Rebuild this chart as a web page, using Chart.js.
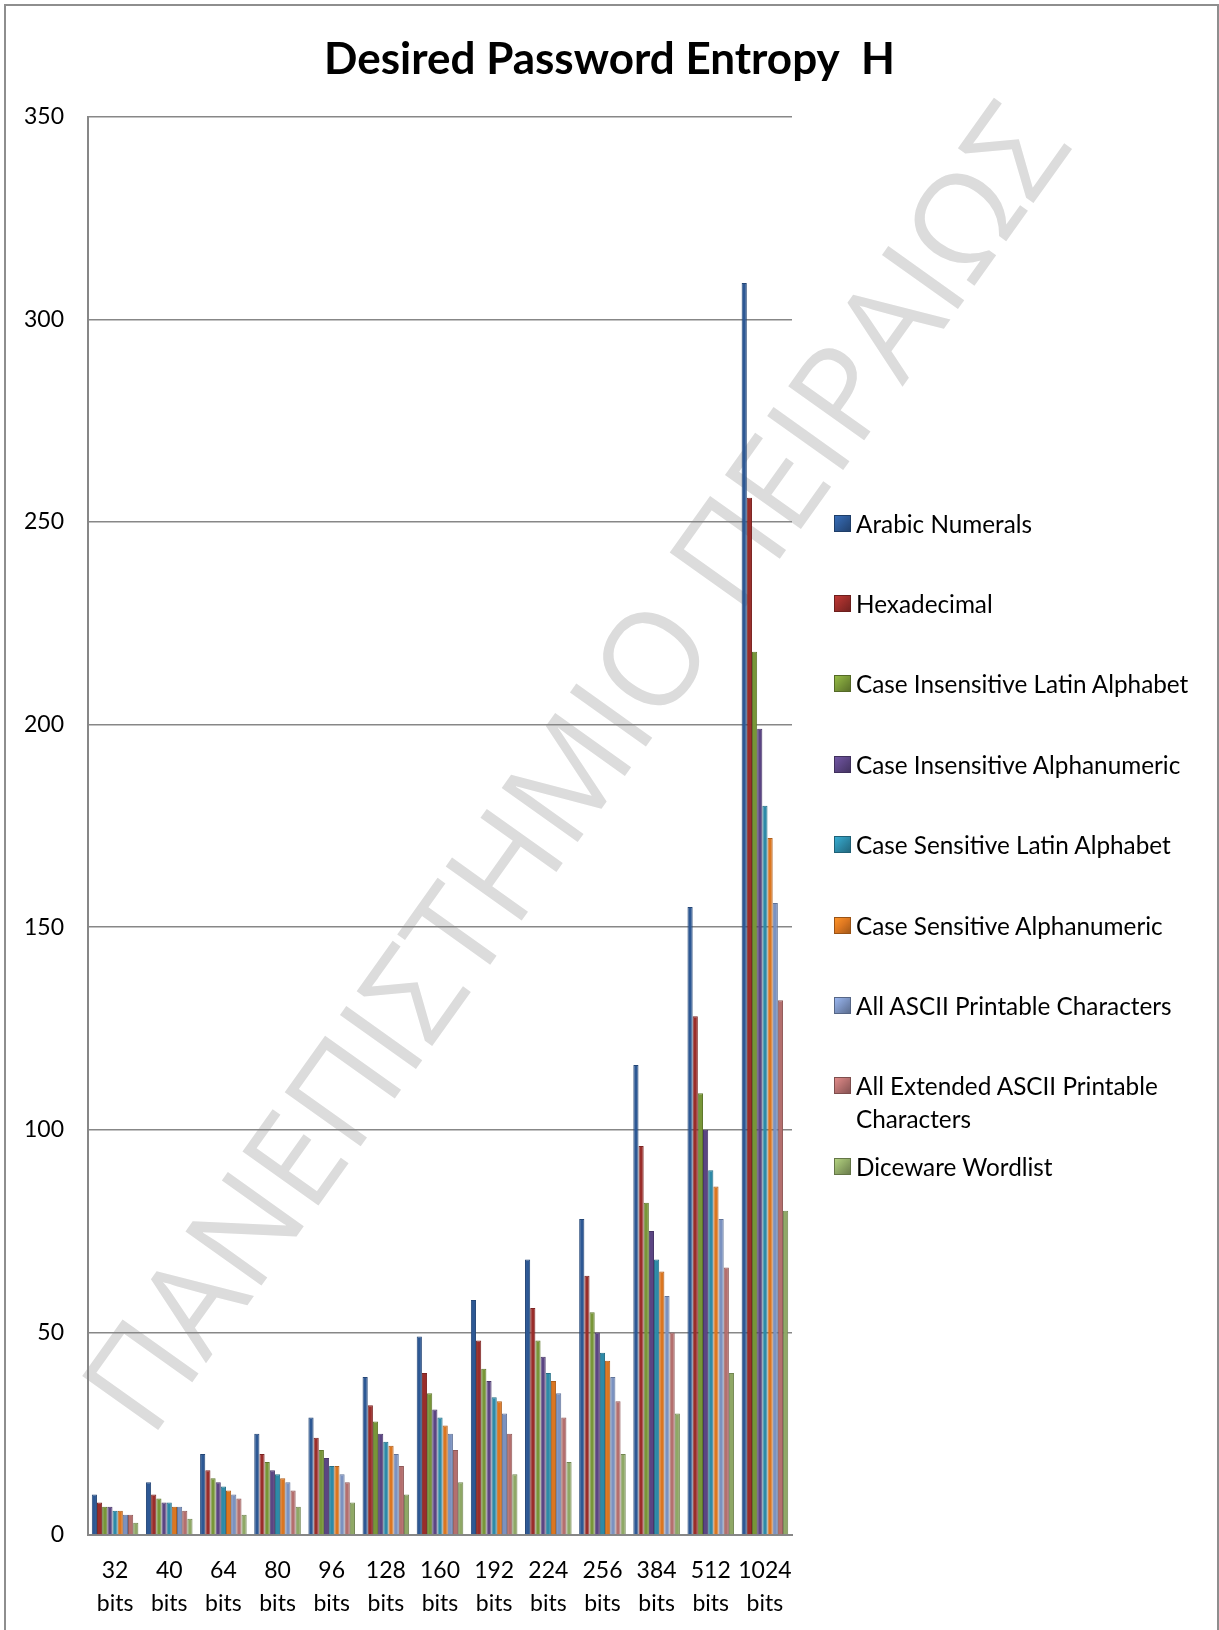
<!DOCTYPE html>
<html>
<head>
<meta charset="utf-8">
<title>Desired Password Entropy H</title>
<script src="https://cdn.jsdelivr.net/npm/chart.js@4.4.0/dist/chart.umd.min.js"></script>
<style>
  html, body { margin: 0; padding: 0; background: #fff; overflow: hidden; }
  #wrap { position: relative; width: 1219px; height: 1630px; }
  #chart { position: absolute; left: 0; top: 0; }
  #frame { position: absolute; left: 4px; top: 4px; width: 1211px; height: 1700px;
           border: 2px solid #8e8e8e; pointer-events: none; }
  #legend { position: absolute; left: 834px; top: 0; font-family: Lato, sans-serif;
            font-size: 24.3px; color: #000; }
  .item { position: absolute; left: 0; }
  .box { position: absolute; left: 0; width: 17px; height: 17px; box-sizing: border-box; }
  .txt { position: absolute; left: 22px; top: 0; width: 345px; line-height: 33px; }
</style>
</head>
<body>
<div id="wrap">
  <canvas id="chart" width="1219" height="1630"></canvas>
  <div id="legend"></div>
  <div id="frame"></div>
</div>
<script>
'use strict';

// categories (key length)
var categories = [
  ["32", "bits"], ["40", "bits"], ["64", "bits"], ["80", "bits"], ["96", "bits"],
  ["128", "bits"], ["160", "bits"], ["192", "bits"], ["224", "bits"], ["256", "bits"],
  ["384", "bits"], ["512", "bits"], ["1024", "bits"]
];

// password length per symbol set
var arabicNumerals      = [10, 13, 20, 25, 29, 39, 49, 58, 68, 78, 116, 155, 309];
var hexadecimal         = [8, 10, 16, 20, 24, 32, 40, 48, 56, 64, 96, 128, 256];
var ciLatinAlphabet     = [7, 9, 14, 18, 21, 28, 35, 41, 48, 55, 82, 109, 218];
var ciAlphanumeric      = [7, 8, 13, 16, 19, 25, 31, 38, 44, 50, 75, 100, 199];
var csLatinAlphabet     = [6, 8, 12, 15, 17, 23, 29, 34, 40, 45, 68, 90, 180];
var csAlphanumeric      = [6, 7, 11, 14, 17, 22, 27, 33, 38, 43, 65, 86, 172];
var asciiPrintable      = [5, 7, 10, 13, 15, 20, 25, 30, 35, 39, 59, 78, 156];
var extAsciiPrintable   = [5, 6, 9, 11, 13, 17, 21, 25, 29, 33, 50, 66, 132];
var dicewareWordlist    = [3, 4, 5, 7, 8, 10, 13, 15, 18, 20, 30, 40, 80];

var seriesNames = [
  'Arabic Numerals', 'Hexadecimal', 'Case Insensitive Latin Alphabet',
  'Case Insensitive Alphanumeric', 'Case Sensitive Latin Alphabet',
  'Case Sensitive Alphanumeric', 'All ASCII Printable Characters',
  'All Extended ASCII Printable Characters', 'Diceware Wordlist'
];
var seriesValues = [arabicNumerals, hexadecimal, ciLatinAlphabet, ciAlphanumeric,
  csLatinAlphabet, csAlphanumeric, asciiPrintable, extAsciiPrintable, dicewareWordlist];
var seriesColors = ['#2d5894', '#9a2d2a', '#789638', '#5b4583', '#2d8aa8',
  '#db7620', '#7b92c0', '#b46f6e', '#8fa866'];

var yTicks = [0, 50, 100, 150, 200, 250, 300, 350];

var watermarkText = 'ΠΑΝΕΠΙΣΤΗΜΙΟ ΠΕΙΡΑΙΩΣ';

function shade(hex, f) {
  var n = parseInt(hex.slice(1), 16);
  var r = Math.min(255, Math.round(((n >> 16) & 255) * f));
  var g = Math.min(255, Math.round(((n >> 8) & 255) * f));
  var b = Math.min(255, Math.round((n & 255) * f));
  return 'rgb(' + r + ',' + g + ',' + b + ')';
}

var datasets = seriesNames.map(function(name, i) {
  return {
    label: name,
    data: seriesValues[i],
    backgroundColor: seriesColors[i],
    borderColor: shade(seriesColors[i], 0.8),
    borderWidth: 1,
    categoryPercentage: 0.86,
    barPercentage: 1.0
  };
});

// white background + diagonal watermark, under grid and bars
var watermark = {
  id: 'watermark',
  beforeDraw: function(chart) {
    var c = chart.ctx;
    c.save();
    c.fillStyle = '#fff';
    c.fillRect(0, 0, chart.width, chart.height);
    c.translate(582, 772);
    c.rotate(-54.5 * Math.PI / 180);
    c.font = '500 100px "Open Sans", "Noto Sans", sans-serif';
    var w = c.measureText(watermarkText).width;
    var size = 100 * 1590 / w;
    c.font = '500 ' + size.toFixed(1) + 'px "Open Sans", "Noto Sans", sans-serif';
    c.fillStyle = '#dcdcdc';
    c.textAlign = 'center';
    c.textBaseline = 'middle';
    c.fillText(watermarkText, 0, 0);
    c.restore();
  }
};

var tickFont = { family: 'Lato', size: 23, lineHeight: 1.43 };

var chart = new Chart(document.getElementById('chart').getContext('2d'), {
  type: 'bar',
  data: { labels: categories, datasets: datasets },
  plugins: [watermark],
  options: {
    responsive: false,
    animation: false,
    layout: { padding: 0 },
    plugins: {
      legend: { display: false },
      tooltip: { enabled: false },
      title: {
        display: true,
        text: 'Desired Password Entropy  H',
        color: '#000',
        font: { family: 'Lato', size: 44, weight: 'bold', lineHeight: 1.2 },
        padding: { top: 33, bottom: 31 }
      }
    },
    scales: {
      x: {
        grid: { display: false, drawTicks: false },
        border: { display: true, color: '#878787', width: 2 },
        ticks: { color: '#000', font: tickFont, padding: 19, maxRotation: 0, autoSkip: false },
        afterFit: function(s) { s.height = 95; }
      },
      y: {
        min: 0,
        max: 350,
        afterBuildTicks: function(s) { s.ticks = yTicks.map(function(v) { return { value: v }; }); },
        ticks: { color: '#000', font: tickFont, padding: 24 },
        grid: { color: '#878787', lineWidth: 1.5, drawTicks: false },
        border: { color: '#878787', width: 2 },
        afterFit: function(s) { s.width = 88; }
      },
      yRight: {
        position: 'right',
        grid: { display: false, drawTicks: false },
        ticks: { display: false },
        border: { display: false },
        afterFit: function(s) { s.width = 427; }
      }
    }
  }
});

// legend on the right, one row every ~80px
var legend = document.getElementById('legend');
seriesNames.forEach(function(name, i) {
  var cy = 523 + i * 80.4;
  var item = document.createElement('div');
  item.className = 'item';
  item.style.top = (cy - 16.5) + 'px';
  var box = document.createElement('div');
  box.className = 'box';
  box.style.top = '8px';
  box.style.background = 'linear-gradient(135deg, ' + shade(seriesColors[i], 1.25) + ', ' + seriesColors[i] + ' 50%, ' + shade(seriesColors[i], 0.75) + ')';
  box.style.border = '1px solid ' + shade(seriesColors[i], 0.7);
  var txt = document.createElement('div');
  txt.className = 'txt';
  txt.textContent = name;
  item.appendChild(box);
  item.appendChild(txt);
  legend.appendChild(item);
});
</script>
</body>
</html>
